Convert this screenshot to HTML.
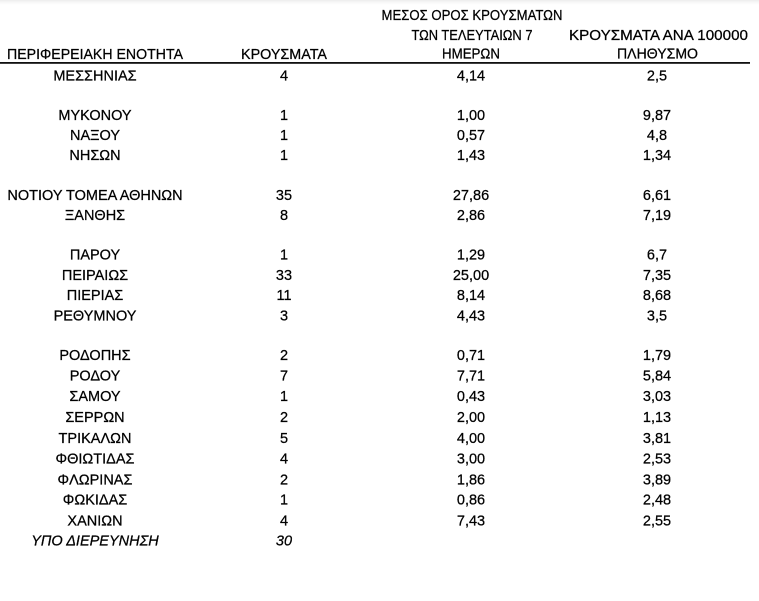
<!DOCTYPE html>
<html>
<head>
<meta charset="utf-8">
<style>
html,body{margin:0;padding:0;background:#fff;}
body{width:759px;height:601px;overflow:hidden;position:relative;
background:linear-gradient(to bottom,#ececec 0px,#f7f7f7 2px,#ffffff 5px,#ffffff 100%);}
svg{position:absolute;left:0;top:0;}
text{font-family:"Liberation Sans","DejaVu Sans",sans-serif;fill:#000;stroke:#000;stroke-width:0.25px;}
.c1{font-size:14.5px;text-anchor:middle;}
.c2{font-size:14.5px;text-anchor:middle;}
.c3{font-size:14.5px;text-anchor:middle;}
.c4{font-size:14.5px;text-anchor:middle;}
.h{font-size:14.5px;}
.it{font-style:italic;}
</style>
</head>
<body>
<svg width="759" height="601" viewBox="0 0 759 601" xmlns="http://www.w3.org/2000/svg">
  <!-- header -->
  <text class="h" x="7" y="59" textLength="176" lengthAdjust="spacingAndGlyphs">ΠΕΡΙΦΕΡΕΙΑΚΗ ΕΝΟΤΗΤΑ</text>
  <text class="h" x="284" y="59" text-anchor="middle" textLength="86" lengthAdjust="spacingAndGlyphs">ΚΡΟΥΣΜΑΤΑ</text>
  <text class="h" x="472" y="20" text-anchor="middle" textLength="181" lengthAdjust="spacingAndGlyphs">ΜΕΣΟΣ ΟΡΟΣ ΚΡΟΥΣΜΑΤΩΝ</text>
  <text class="h" x="472" y="40" text-anchor="middle" textLength="121" lengthAdjust="spacingAndGlyphs">ΤΩΝ ΤΕΛΕΥΤΑΙΩΝ 7</text>
  <text class="h" x="471" y="58.5" text-anchor="middle" textLength="58" lengthAdjust="spacingAndGlyphs">ΗΜΕΡΩΝ</text>
  <text class="h" x="658.5" y="40" text-anchor="middle" textLength="179" lengthAdjust="spacingAndGlyphs">ΚΡΟΥΣΜΑΤΑ ΑΝΑ 100000</text>
  <text class="h" x="657.5" y="58.5" text-anchor="middle" textLength="81" lengthAdjust="spacingAndGlyphs">ΠΛΗΘΥΣΜΟ</text>
  <rect x="0" y="62" width="750" height="1.8" fill="#111"/>

  <!-- rows -->
  <g>
    <text class="c1" x="95" y="80.5">ΜΕΣΣΗΝΙΑΣ</text><text class="c2" x="284" y="80.5">4</text><text class="c3" x="471" y="80.5">4,14</text><text class="c4" x="657" y="80.5">2,5</text>

    <text class="c1" x="95" y="120">ΜΥΚΟΝΟΥ</text><text class="c2" x="284" y="120">1</text><text class="c3" x="471" y="120">1,00</text><text class="c4" x="657" y="120">9,87</text>
    <text class="c1" x="95" y="140">ΝΑΞΟΥ</text><text class="c2" x="284" y="140">1</text><text class="c3" x="471" y="140">0,57</text><text class="c4" x="657" y="140">4,8</text>
    <text class="c1" x="95" y="160">ΝΗΣΩΝ</text><text class="c2" x="284" y="160">1</text><text class="c3" x="471" y="160">1,43</text><text class="c4" x="657" y="160">1,34</text>

    <text class="c1" x="95" y="200">ΝΟΤΙΟΥ ΤΟΜΕΑ ΑΘΗΝΩΝ</text><text class="c2" x="284" y="200">35</text><text class="c3" x="471" y="200">27,86</text><text class="c4" x="657" y="200">6,61</text>
    <text class="c1" x="95" y="220">ΞΑΝΘΗΣ</text><text class="c2" x="284" y="220">8</text><text class="c3" x="471" y="220">2,86</text><text class="c4" x="657" y="220">7,19</text>

    <text class="c1" x="95" y="259.5">ΠΑΡΟΥ</text><text class="c2" x="284" y="259.5">1</text><text class="c3" x="471" y="259.5">1,29</text><text class="c4" x="657" y="259.5">6,7</text>
    <text class="c1" x="95" y="280">ΠΕΙΡΑΙΩΣ</text><text class="c2" x="284" y="280">33</text><text class="c3" x="471" y="280">25,00</text><text class="c4" x="657" y="280">7,35</text>
    <text class="c1" x="95" y="300">ΠΙΕΡΙΑΣ</text><text class="c2" x="284" y="300">11</text><text class="c3" x="471" y="300">8,14</text><text class="c4" x="657" y="300">8,68</text>
    <text class="c1" x="95" y="320.5">ΡΕΘΥΜΝΟΥ</text><text class="c2" x="284" y="320.5">3</text><text class="c3" x="471" y="320.5">4,43</text><text class="c4" x="657" y="320.5">3,5</text>

    <text class="c1" x="95" y="360">ΡΟΔΟΠΗΣ</text><text class="c2" x="284" y="360">2</text><text class="c3" x="471" y="360">0,71</text><text class="c4" x="657" y="360">1,79</text>
    <text class="c1" x="95" y="380.5">ΡΟΔΟΥ</text><text class="c2" x="284" y="380.5">7</text><text class="c3" x="471" y="380.5">7,71</text><text class="c4" x="657" y="380.5">5,84</text>
    <text class="c1" x="95" y="401">ΣΑΜΟΥ</text><text class="c2" x="284" y="401">1</text><text class="c3" x="471" y="401">0,43</text><text class="c4" x="657" y="401">3,03</text>
    <text class="c1" x="95" y="422">ΣΕΡΡΩΝ</text><text class="c2" x="284" y="422">2</text><text class="c3" x="471" y="422">2,00</text><text class="c4" x="657" y="422">1,13</text>
    <text class="c1" x="95" y="443">ΤΡΙΚΑΛΩΝ</text><text class="c2" x="284" y="443">5</text><text class="c3" x="471" y="443">4,00</text><text class="c4" x="657" y="443">3,81</text>
    <text class="c1" x="95" y="463.5">ΦΘΙΩΤΙΔΑΣ</text><text class="c2" x="284" y="463.5">4</text><text class="c3" x="471" y="463.5">3,00</text><text class="c4" x="657" y="463.5">2,53</text>
    <text class="c1" x="95" y="484.3">ΦΛΩΡΙΝΑΣ</text><text class="c2" x="284" y="484.3">2</text><text class="c3" x="471" y="484.3">1,86</text><text class="c4" x="657" y="484.3">3,89</text>
    <text class="c1" x="95" y="504.5">ΦΩΚΙΔΑΣ</text><text class="c2" x="284" y="504.5">1</text><text class="c3" x="471" y="504.5">0,86</text><text class="c4" x="657" y="504.5">2,48</text>
    <text class="c1" x="95" y="525.5">ΧΑΝΙΩΝ</text><text class="c2" x="284" y="525.5">4</text><text class="c3" x="471" y="525.5">7,43</text><text class="c4" x="657" y="525.5">2,55</text>
    <text class="c1 it" x="95" y="545.5">ΥΠΟ ΔΙΕΡΕΥΝΗΣΗ</text><text class="c2 it" x="284" y="545.5">30</text>
  </g>
</svg>
</body>
</html>
